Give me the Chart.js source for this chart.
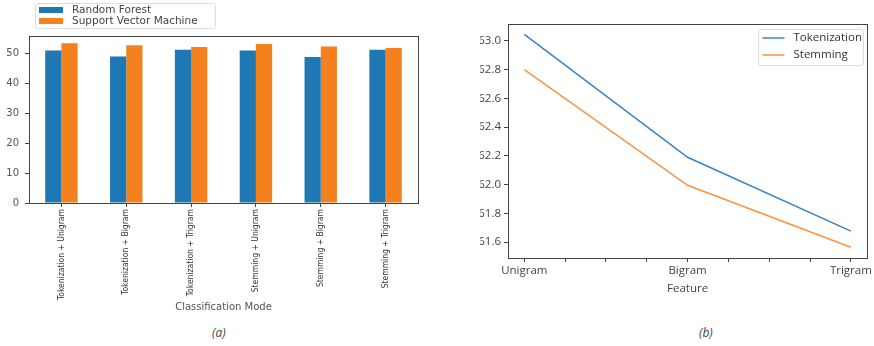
<!DOCTYPE html>
<html>
<head>
<meta charset="utf-8">
<script src="https://cdn.jsdelivr.net/npm/chart.js@4"></script>
<style>
  body { margin: 0; width: 874px; height: 346px; background: #fff; position: relative; overflow: hidden; }
  #wrapA { position: absolute; left: 0; top: 0; width: 440px; height: 320px; }
  #wrapB { position: absolute; left: 480px; top: 0; width: 394px; height: 300px; }
  .cap { position: absolute; font-family: "Open Sans", sans-serif; font-style: italic; font-size: 12px; color: #444; }
</style>
</head>
<body>
<div id="wrapA"><canvas id="chartA"></canvas></div>
<div id="wrapB"><canvas id="chartB"></canvas></div>
<div class="cap" style="left:212px; top:324px;">(a)</div>
<div class="cap" style="left:699px; top:324px;">(b)</div>
<script>
// (a) bar chart data
const modes = ['Tokenization + Unigram', 'Tokenization + Bigram', 'Tokenization + Trigram',
               'Stemming + Unigram', 'Stemming + Bigram', 'Stemming + Trigram'];
const randomForest = [50.9, 48.9, 51.1, 50.9, 48.7, 51.1];
const svm = [53.3, 52.6, 52.0, 53.0, 52.2, 51.7];
const barTicks = [0, 10, 20, 30, 40, 50];

// (b) line chart data
const features = ['Unigram', 'Bigram', 'Trigram'];
const tokenization = [63.045, 62.19, 61.677];
const stemming = [62.80, 61.995, 61.565];
const lineTicks = [61.6, 61.8, 62.0, 62.2, 62.4, 62.6, 62.8, 63.0];

const BLUE = '#1f77b4';
const ORANGE = '#f5801e';
const AXIS = '#444';

const framePlugin = {
    id: 'frame',
    afterDatasetsDraw(chart) {
        const { ctx, chartArea: a } = chart;
        ctx.save();
        ctx.strokeStyle = AXIS;
        ctx.lineWidth = 1;
        ctx.strokeRect(Math.round(a.left) + 0.5, Math.round(a.top) + 0.5,
            Math.round(a.right - a.left), Math.round(a.bottom - a.top));
        ctx.restore();
    }
};

// matplotlib style legend box for the bar chart (patches)
const barLegend = {
    id: 'barLegend',
    afterDraw(chart) {
        const ctx = chart.ctx;
        ctx.save();
        ctx.fillStyle = '#fff';
        ctx.strokeStyle = '#ddd';
        ctx.lineWidth = 1;
        ctx.beginPath();
        ctx.roundRect(35.5, 3.5, 180, 25, 2);
        ctx.fill();
        ctx.stroke();
        ctx.font = '10.5px "DejaVu Sans"';
        ctx.textBaseline = 'middle';
        chart.data.datasets.forEach((ds, i) => {
            const y = 10 + i * 11;
            ctx.fillStyle = ds.backgroundColor;
            ctx.fillRect(39, y - 3, 24, 6);
            ctx.fillStyle = '#444';
            ctx.fillText(ds.label, 72, y);
        });
        ctx.restore();
    }
};

const lineLegend = {
    id: 'lineLegend',
    afterDraw(chart) {
        const ctx = chart.ctx;
        const x0 = 278.5, y0 = 29.5;
        ctx.save();
        ctx.fillStyle = '#fff';
        ctx.strokeStyle = '#ddd';
        ctx.lineWidth = 1;
        ctx.beginPath();
        ctx.roundRect(x0, y0, 105, 36, 2);
        ctx.fill();
        ctx.stroke();
        ctx.font = '11.5px "Open Sans"';
        ctx.textBaseline = 'middle';
        chart.data.datasets.forEach((ds, i) => {
            const y = 38 + i * 17;
            ctx.strokeStyle = ds.borderColor;
            ctx.lineWidth = 1.5;
            ctx.beginPath();
            ctx.moveTo(x0 + 4, y);
            ctx.lineTo(x0 + 26, y);
            ctx.stroke();
            ctx.fillStyle = '#333';
            ctx.fillText(ds.label, x0 + 35, y);
        });
        ctx.restore();
    }
};

new Chart(document.getElementById('chartA'), {
    type: 'bar',
    data: {
        labels: modes,
        datasets: [
            { label: 'Random Forest', data: randomForest, backgroundColor: BLUE },
            { label: 'Support Vector Machine', data: svm, backgroundColor: ORANGE }
        ]
    },
    options: {
        responsive: true,
        maintainAspectRatio: false,
        animation: false,
        layout: { padding: { top: 36, right: 22, left: 0, bottom: 0 } },
        plugins: { legend: { display: false }, tooltip: { enabled: false } },
        datasets: { bar: { categoryPercentage: 0.5, barPercentage: 1.0 } },
        scales: {
            x: {
                grid: { display: true, offset: false, drawOnChartArea: false, drawTicks: true, tickLength: 4, color: AXIS },
                border: { display: false },
                ticks: {
                    minRotation: 90, maxRotation: 90, autoSkip: false, padding: 2,
                    color: '#333', font: { family: '"DejaVu Sans Condensed", "Liberation Sans Narrow"', size: 8.5 }
                },
                title: {
                    display: true, text: 'Classification Mode', color: '#555',
                    font: { family: '"DejaVu Sans"', size: 10 }, padding: { top: 0, bottom: 7 }
                },
                afterFit(s) { s.height = 117; }
            },
            y: {
                min: 0, max: 55.7,
                grid: { display: true, drawOnChartArea: false, drawTicks: true, tickLength: 4, color: AXIS },
                border: { display: false },
                afterBuildTicks(s) { s.ticks = barTicks.map(v => ({ value: v })); },
                ticks: { color: '#555', padding: 6, font: { family: '"DejaVu Sans"', size: 10 } },
                afterFit(s) { s.width = 29; }
            }
        }
    },
    plugins: [framePlugin, barLegend]
});

new Chart(document.getElementById('chartB'), {
    type: 'line',
    data: {
        datasets: [
            { label: 'Tokenization', data: tokenization.map((v, i) => ({ x: i, y: v })), borderColor: '#3a86c6', borderWidth: 1.6, pointRadius: 0, tension: 0 },
            { label: 'Stemming', data: stemming.map((v, i) => ({ x: i, y: v })), borderColor: '#f79446', borderWidth: 1.6, pointRadius: 0, tension: 0 }
        ]
    },
    options: {
        responsive: true,
        maintainAspectRatio: false,
        animation: false,
        layout: { padding: { top: 24, right: 4, left: 0, bottom: 0 } },
        plugins: { legend: { display: false }, tooltip: { enabled: false } },
        scales: {
            x: {
                type: 'linear', min: -0.1, max: features.length - 0.9,
                grid: { display: true, drawOnChartArea: false, drawTicks: true, tickLength: 4, color: AXIS },
                border: { display: false },
                afterBuildTicks(s) {
                    const t = [];
                    for (let v = 0; v <= features.length - 1 + 1e-9; v += 0.25) t.push({ value: v });
                    s.ticks = t;
                },
                ticks: {
                    color: '#444', padding: 2, maxRotation: 0, autoSkip: false,
                    font: { family: '"Open Sans"', size: 11.5 },
                    callback: v => Number.isInteger(v) ? features[v] : ''
                },
                title: {
                    display: true, text: 'Feature', color: '#444',
                    font: { family: '"Open Sans"', size: 11.5 }, padding: { top: 0, bottom: 4 }
                },
                afterFit(s) { s.height = 42; }
            },
            y: {
                min: 61.49, max: 63.117,
                grid: { display: true, drawOnChartArea: false, drawTicks: true, tickLength: 4, color: AXIS },
                border: { display: false },
                afterBuildTicks(s) { s.ticks = lineTicks.map(v => ({ value: v })); },
                ticks: {
                    color: '#444', padding: 3, font: { family: '"Open Sans"', size: 11.5 },
                    callback: v => v.toFixed(1)
                },
                afterFit(s) { s.width = 28; }
            }
        }
    },
    plugins: [framePlugin, lineLegend]
});
</script>
</body>
</html>
